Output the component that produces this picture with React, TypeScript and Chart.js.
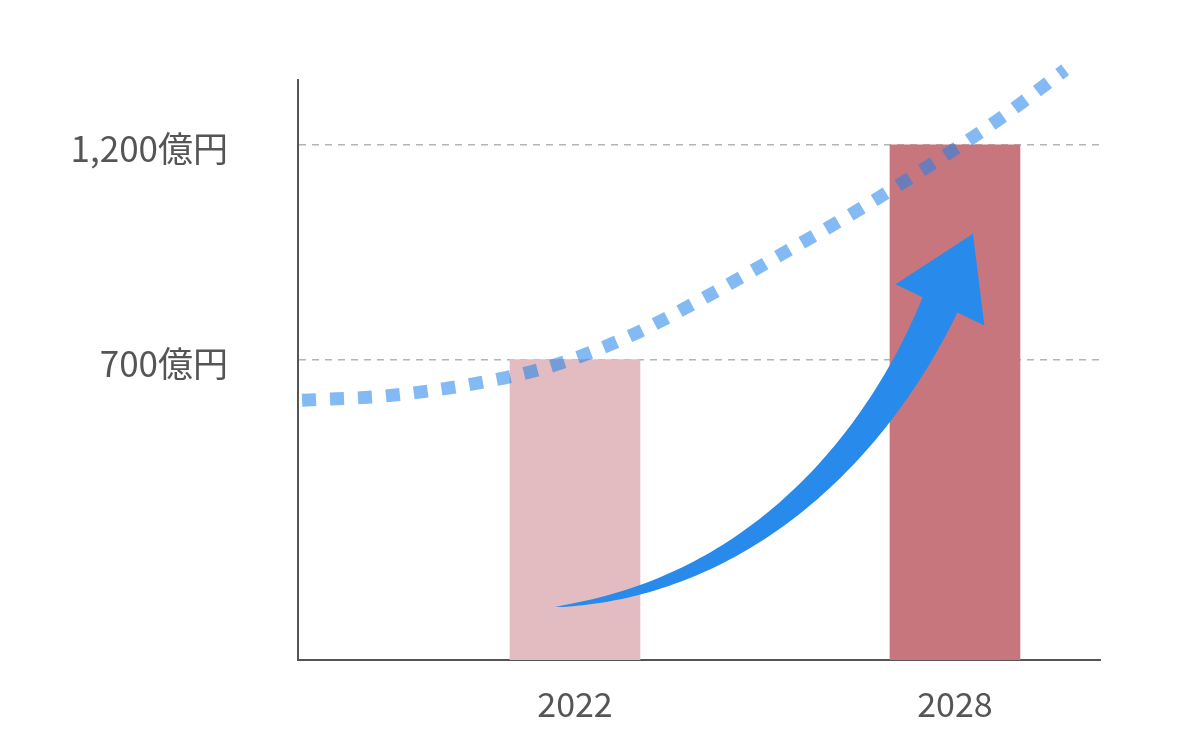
import React, { useEffect, useRef } from "react";
import { Chart, registerables } from "chart.js";

Chart.register(...registerables);

// ---- data ----
const years = [2022, 2028];
const marketValues = [700, 1200]; // 億円
const barColors = ["#E3BCC1", "#C7767E"];
const yTickValues = [700, 1200];

// dotted trend curve (year, 億円)
const trendYears = [2017.69, 2019.0, 2020.31, 2021.59, 2022.84, 2024.07, 2025.27, 2026.45, 2027.61, 2028.71, 2029.74];
const trendValues = [605, 615, 641, 683, 753, 846, 946, 1046, 1153, 1261, 1375];

// growth arrow: cubic centre line (tail, ctrl1, ctrl2, neck) then tip, in (year, 億円)
const arrowYears = [2021.684, 2024.842, 2026.816, 2027.763, 2028.284];
const arrowValues = [123.5, 170.1, 512.6, 827.2, 992.6];

const X_MIN = 2017.626;
const X_MAX = 2030.29;
const Y_MAX = 1351;

const TEXT = "#555555";
const FONT = "'Noto Sans CJK JP', 'Noto Sans', sans-serif";

const arrowPlugin = {
  id: "growthArrow",
  afterDatasetsDraw(chart: any) {
    const xs = chart.scales.x;
    const ys = chart.scales.y;
    const P = arrowYears.map((yr, i) => ({
      x: xs.getPixelForValue(yr),
      y: ys.getPixelForValue(arrowValues[i]),
    }));
    const [p0, c1, c2, p3, tip] = P;
    const maxW = 38;
    const headHalf = 49;
    const N = 80;
    const left: { x: number; y: number }[] = [];
    const right: { x: number; y: number }[] = [];
    for (let i = 0; i <= N; i++) {
      const t = i / N;
      const u = 1 - t;
      const x = u * u * u * p0.x + 3 * u * u * t * c1.x + 3 * u * t * t * c2.x + t * t * t * p3.x;
      const y = u * u * u * p0.y + 3 * u * u * t * c1.y + 3 * u * t * t * c2.y + t * t * t * p3.y;
      let tx = 3 * u * u * (c1.x - p0.x) + 6 * u * t * (c2.x - c1.x) + 3 * t * t * (p3.x - c2.x);
      let ty = 3 * u * u * (c1.y - p0.y) + 6 * u * t * (c2.y - c1.y) + 3 * t * t * (p3.y - c2.y);
      const L = Math.hypot(tx, ty) || 1;
      tx /= L;
      ty /= L;
      const nx = -ty;
      const ny = tx;
      const w = (maxW * Math.pow(t, 0.75)) / 2;
      left.push({ x: x + nx * w, y: y + ny * w });
      right.push({ x: x - nx * w, y: y - ny * w });
    }
    let dx = tip.x - p3.x;
    let dy = tip.y - p3.y;
    const dl = Math.hypot(dx, dy) || 1;
    dx /= dl;
    dy /= dl;
    const hnx = -dy;
    const hny = dx;
    const ctx = chart.ctx;
    ctx.save();
    ctx.fillStyle = "#288BEB";
    ctx.beginPath();
    ctx.moveTo(left[0].x, left[0].y);
    for (const p of left) ctx.lineTo(p.x, p.y);
    ctx.lineTo(p3.x + hnx * headHalf, p3.y + hny * headHalf);
    ctx.lineTo(tip.x, tip.y);
    ctx.lineTo(p3.x - hnx * headHalf, p3.y - hny * headHalf);
    for (let i = right.length - 1; i >= 0; i--) ctx.lineTo(right[i].x, right[i].y);
    ctx.closePath();
    ctx.fill();
    ctx.restore();
  },
};

export default function App() {
  const canvasRef = useRef<HTMLCanvasElement | null>(null);

  useEffect(() => {
    const canvas = canvasRef.current;
    if (!canvas) return;
    const chart = new Chart(canvas, {
      type: "bar",
      data: {
        datasets: [
          {
            type: "line",
            data: trendYears.map((yr, i) => ({ x: yr, y: trendValues[i] })),
            borderColor: "rgba(30,130,235,0.55)",
            borderWidth: 13,
            borderDash: [14, 14],
            borderCapStyle: "butt",
            pointRadius: 0,
            cubicInterpolationMode: "monotone",
            fill: false,
            clip: false,
            order: 0,
          } as any,
          {
            type: "bar",
            data: years.map((yr, i) => ({ x: yr, y: marketValues[i] })),
            backgroundColor: barColors,
            borderWidth: 0,
            barThickness: 130,
            order: 1,
          } as any,
        ],
      },
      options: {
        responsive: false,
        animation: false,
        layout: { padding: { top: 80, right: 100, left: 0, bottom: 0 } },
        plugins: {
          legend: { display: false },
          tooltip: { enabled: false },
        },
        scales: {
          x: {
            type: "linear",
            offset: false,
            min: X_MIN,
            max: X_MAX,
            afterDataLimits: (scale: any) => {
              scale.min = X_MIN;
              scale.max = X_MAX;
            },
            afterBuildTicks: (scale: any) => {
              scale.ticks = years.map((v) => ({ value: v }));
            },
            afterFit: (scale: any) => {
              scale.height = 90;
              scale.paddingLeft = 0;
              scale.paddingRight = 0;
            },
            grid: { display: false, drawTicks: false, offset: false },
            border: { display: true, color: "#555555", width: 2 },
            ticks: {
              padding: 24,
              color: TEXT,
              font: { size: 34, family: FONT },
              callback: (v: any) => String(v),
              maxRotation: 0,
            },
          },
          y: {
            type: "linear",
            min: 0,
            max: Y_MAX,
            afterBuildTicks: (scale: any) => {
              scale.ticks = yTickValues.map((v) => ({ value: v }));
            },
            afterFit: (scale: any) => {
              scale.width = 298;
              scale.paddingTop = 0;
              scale.paddingBottom = 0;
            },
            grid: {
              drawTicks: false,
              color: "#b4b4b4",
              lineWidth: 1.5,
            },
            border: { display: true, color: "#555555", width: 2, dash: [7, 6] },
            ticks: {
              padding: 70,
              labelOffset: 4,
              color: TEXT,
              font: { size: 35, family: FONT },
              callback: (v: any) => Number(v).toLocaleString("en-US") + "億円",
            },
          },
        },
      },
      plugins: [arrowPlugin],
    });
    return () => chart.destroy();
  }, []);

  return (
    <div style={{ position: "absolute", left: 0, top: 0, width: 1200, height: 750, background: "#fff" }}>
      <canvas ref={canvasRef} width={1200} height={750} />
    </div>
  );
}
